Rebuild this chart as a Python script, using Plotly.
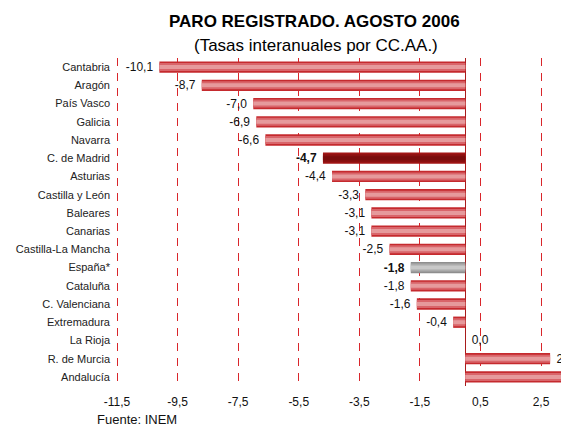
import plotly.graph_objects as go

regions = ["Cantabria", "Aragón", "País Vasco", "Galicia", "Navarra", "C. de Madrid",
           "Asturias", "Castilla y León", "Baleares", "Canarias", "Castilla-La Mancha",
           "España*", "Cataluña", "C. Valenciana", "Extremadura", "La Rioja",
           "R. de Murcia", "Andalucía"]
values = [-10.1, -8.7, -7.0, -6.9, -6.6, -4.7, -4.4, -3.3, -3.1, -3.1, -2.5,
          -1.8, -1.8, -1.6, -0.4, 0.0, 2.8, 3.5]
tick_vals = [-11.5, -9.5, -7.5, -5.5, -3.5, -1.5, 0.5, 2.5]
tick_text = ["-11,5", "-9,5", "-7,5", "-5,5", "-3,5", "-1,5", "0,5", "2,5"]

FONT = "Liberation Sans, Arial, sans-serif"

def kind(name):
    if name == "C. de Madrid":
        return "madrid"
    if name == "España*":
        return "spain"
    return "normal"

palette = {
    "normal": ["#C52A2E", "#D9656A", "#E69A9C"],
    "madrid": ["#A31616", "#8C1010", "#7A0C0C"],
    "spain": ["#8E8E8E", "#ABABAB", "#C8C8C8"],
}
widths = [0.62, 0.44, 0.22]

def label_template(name, v):
    core = "%{x:.1f}"
    if kind(name) != "normal":
        core = "<b>" + core + "</b>"
    return core + " " if v < 0 else " " + core

fig = go.Figure()
for layer in range(3):
    cols = [palette[kind(r)][layer] for r in regions]
    kw = {}
    if layer == 0:
        kw = dict(
            texttemplate=[label_template(r, v) for r, v in zip(regions, values)],
            textposition="outside",
            textfont=dict(family=FONT, size=12, color="#111111"),
            cliponaxis=False,
            constraintext="none",
        )
    fig.add_trace(go.Bar(
        x=values, y=regions, orientation="h", width=widths[layer],
        marker=dict(color=cols, line=dict(width=0)),
        hoverinfo="skip", showlegend=False, **kw))

fig.update_layout(
    width=561, height=426,
    margin=dict(l=113, r=0, t=58, b=40),
    barmode="overlay",
    separators=",.",
    paper_bgcolor="white", plot_bgcolor="white",
    font=dict(family=FONT, color="#111111"),
    xaxis=dict(
        range=[-11.632, 3.16], tickvals=tick_vals, ticktext=tick_text,
        showgrid=True, gridcolor="#D9262B", griddash="8px,7px", gridwidth=1,
        zeroline=True, zerolinecolor="#A81C1C", zerolinewidth=1.2,
        showline=False, ticks="", ticklabelstandoff=7,
        tickfont=dict(family=FONT, size=12, color="#111111"),
        fixedrange=True,
    ),
    yaxis=dict(
        categoryorder="array", categoryarray=regions, autorange="reversed",
        showgrid=False, zeroline=False, showline=False, ticks="",
        ticklabelstandoff=2,
        tickfont=dict(family=FONT, size=11, color="#222222"),
        fixedrange=True,
    ),
    annotations=[
        dict(text="<b>PARO REGISTRADO. AGOSTO 2006</b>", xref="paper", yref="paper",
             x=(314 - 113) / 448, y=1.1098, xanchor="center", yanchor="middle", showarrow=False,
             font=dict(family=FONT, size=17, color="#000000")),
        dict(text="(Tasas interanuales por CC.AA.)", xref="paper", yref="paper",
             x=(316 - 113) / 448, y=1.0396, xanchor="center", yanchor="middle", showarrow=False,
             font=dict(family=FONT, size=17, color="#000000")),
        dict(text="Fuente: INEM", xref="paper", yref="paper",
             x=(95 - 113) / 448, y=(386 - 419) / 328, xanchor="left", yanchor="middle",
             showarrow=False, font=dict(family=FONT, size=13, color="#111111")),
    ],
)

fig.write_html(
    "out.html",
    config={"displayModeBar": False},
    post_script="document.body.style.margin='0';document.body.style.overflow='hidden';",
)
